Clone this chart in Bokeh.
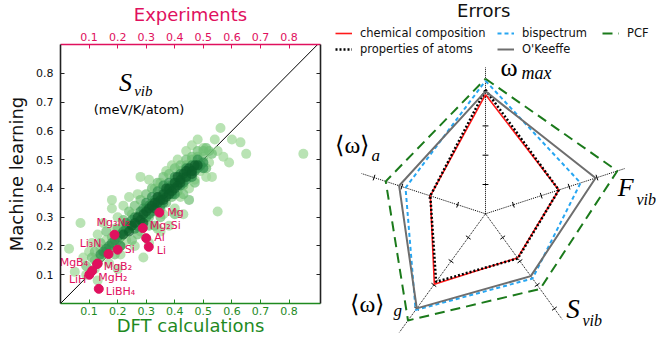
import math
from bokeh.plotting import figure
from bokeh.layouts import row, column
from bokeh.models import (LinearAxis, FixedTicker, Range1d, Slope, Label, Legend,
                          LegendItem, ColumnDataSource)
from bokeh.core.properties import value
from bokeh.embed import file_html
from bokeh.resources import INLINE

# ---------------------------------------------------------------- data
# ML vs DFT S_vib (meV/K/atom), grouped by point shade
light_x = [0.03, 0.07, 0.05, 0.08, 0.09, 0.10, 0.11, 0.12, 0.13, 0.14, 0.15, 0.16, 0.17, 0.18, 0.18,
           0.19, 0.20, 0.21, 0.22, 0.23, 0.24, 0.25, 0.26, 0.27, 0.28, 0.28, 0.30, 0.31, 0.31, 0.33,
           0.34, 0.35, 0.36, 0.37, 0.38, 0.39, 0.40, 0.41, 0.42, 0.43, 0.44, 0.45, 0.46, 0.47, 0.48,
           0.49, 0.50, 0.51, 0.52, 0.53, 0.54, 0.55, 0.55, 0.56, 0.57, 0.59, 0.60, 0.63, 0.65, 0.85,
           0.35, 0.29, 0.13, 0.20]
light_y = [0.19, 0.28, 0.11, 0.16, 0.10, 0.18, 0.21, 0.12, 0.24, 0.19, 0.28, 0.22, 0.14, 0.33, 0.36,
           0.26, 0.30, 0.17, 0.34, 0.22, 0.37, 0.31, 0.20, 0.38, 0.44, 0.25, 0.34, 0.43, 0.21, 0.40,
           0.26, 0.42, 0.31, 0.46, 0.27, 0.48, 0.33, 0.50, 0.37, 0.31, 0.53, 0.40, 0.55, 0.43, 0.57,
           0.46, 0.54, 0.44, 0.49, 0.44, 0.57, 0.32, 0.53, 0.61, 0.51, 0.49, 0.57, 0.56, 0.52, 0.52,
           0.25, 0.16, 0.08, 0.12]
mid_x = [0.09, 0.11, 0.12, 0.13, 0.14, 0.15, 0.16, 0.17, 0.18, 0.19, 0.20, 0.21, 0.22, 0.23, 0.24,
         0.25, 0.26, 0.27, 0.28, 0.29, 0.30, 0.31, 0.32, 0.33, 0.34, 0.35, 0.36, 0.37, 0.38, 0.39,
         0.40, 0.41, 0.42, 0.43, 0.44, 0.45, 0.46, 0.47, 0.48, 0.49, 0.50, 0.51, 0.52, 0.53, 0.45,
         0.40, 0.33, 0.27, 0.21,
         0.12, 0.14, 0.16, 0.18, 0.20, 0.22, 0.24, 0.26, 0.28, 0.30, 0.32, 0.34, 0.36, 0.38, 0.40,
         0.42, 0.44, 0.46, 0.48, 0.50, 0.35, 0.31, 0.25, 0.19, 0.43, 0.47, 0.51]
mid_y = [0.13, 0.16, 0.18, 0.14, 0.21, 0.17, 0.25, 0.19, 0.23, 0.20, 0.26, 0.23, 0.29, 0.25, 0.32,
         0.27, 0.34, 0.29, 0.36, 0.29, 0.38, 0.30, 0.40, 0.32, 0.42, 0.33, 0.44, 0.35, 0.45, 0.37,
         0.47, 0.39, 0.48, 0.41, 0.50, 0.44, 0.51, 0.47, 0.53, 0.49, 0.51, 0.54, 0.53, 0.52, 0.36,
         0.31, 0.27, 0.24, 0.20,
         0.15, 0.16, 0.18, 0.20, 0.22, 0.27, 0.26, 0.28, 0.31, 0.33, 0.35, 0.37, 0.39, 0.41, 0.43,
         0.46, 0.48, 0.50, 0.51, 0.53, 0.30, 0.27, 0.22, 0.17, 0.38, 0.42, 0.47]
dark_x = [0.14, 0.16, 0.18, 0.20, 0.22, 0.24, 0.25, 0.26, 0.28, 0.29, 0.30, 0.31, 0.32, 0.33, 0.34,
          0.35, 0.36, 0.37, 0.38, 0.39, 0.40, 0.41, 0.42, 0.43, 0.44, 0.45, 0.46, 0.47, 0.48, 0.49,
          0.50, 0.23, 0.27, 0.31, 0.35, 0.39, 0.43,
          0.19, 0.21, 0.23, 0.26, 0.30, 0.32, 0.34, 0.36, 0.38, 0.40, 0.42, 0.44, 0.46, 0.48, 0.50,
          0.21, 0.17, 0.15]
dark_y = [0.17, 0.19, 0.21, 0.23, 0.25, 0.27, 0.29, 0.30, 0.32, 0.33, 0.35, 0.34, 0.37, 0.36, 0.39,
          0.37, 0.41, 0.39, 0.42, 0.41, 0.44, 0.42, 0.45, 0.44, 0.47, 0.46, 0.48, 0.46, 0.50, 0.48,
          0.49, 0.28, 0.27, 0.31, 0.34, 0.38, 0.42,
          0.22, 0.24, 0.26, 0.26, 0.30, 0.32, 0.34, 0.35, 0.39, 0.38, 0.41, 0.43, 0.44, 0.47, 0.47,
          0.20, 0.20, 0.18]
core_x = [0.26, 0.29, 0.31, 0.33, 0.35, 0.36, 0.37, 0.38, 0.39, 0.40, 0.41, 0.42, 0.43, 0.44, 0.45,
          0.46, 0.47, 0.34, 0.30, 0.48,
          0.22, 0.24, 0.25, 0.27, 0.28, 0.32, 0.34, 0.36, 0.38, 0.40, 0.42, 0.44, 0.46, 0.41, 0.37,
          0.33, 0.29]
core_y = [0.28, 0.31, 0.33, 0.35, 0.36, 0.38, 0.37, 0.40, 0.39, 0.42, 0.41, 0.43, 0.45, 0.44, 0.47,
          0.46, 0.48, 0.37, 0.32, 0.48,
          0.24, 0.25, 0.27, 0.30, 0.29, 0.34, 0.35, 0.36, 0.38, 0.40, 0.42, 0.46, 0.45, 0.44, 0.40,
          0.33, 0.28]

# experimentally measured compounds
exp_names = ["Mg", "Mg\u2082Si", "Al", "Li", "Mg\u2083N\u2082", "Si", "Li\u2083N",
             "MgB\u2084", "MgB\u2082", "LiH", "MgH\u2082", "LiBH\u2084"]
exp_x = [0.346, 0.288, 0.300, 0.309, 0.189, 0.200, 0.168, 0.128, 0.130, 0.101, 0.111, 0.134]
exp_y = [0.316, 0.262, 0.227, 0.197, 0.239, 0.187, 0.172, 0.137, 0.139, 0.100, 0.114, 0.051]

tick_vals = [0.1, 0.2, 0.3, 0.4, 0.5, 0.6, 0.7, 0.8]

# radar chart of errors
radar_axes = ["omega_max", "F_vib", "S_vib", "omega_g", "omega_a"]
radar_angles_deg = [90, 18, -54, -126, 162]
radar_axis_len = [5.0, 5.0, 4.45, 5.0, 4.45]
radar_ticks = [1, 2, 3, 4]
series_names = ["chemical composition", "properties of atoms", "bispectrum", "O'Keeffe", "PCF"]
err_chem = [4.07, 2.63, 1.86, 2.97, 1.98]
err_props = [4.23, 2.63, 1.88, 2.87, 1.98]
err_bisp = [4.54, 3.41, 2.73, 4.06, 2.87]
err_okeeffe = [4.18, 3.95, 2.63, 3.99, 3.10]
err_pcf = [4.61, 4.73, 3.17, 4.50, 3.58]

# ---------------------------------------------------------------- styles
MAGENTA = "#e0105e"
GREEN_TXT = "#1f8a1f"
FONT = "DejaVu Sans"
SERIF = "Liberation Serif"

# label offsets in screen px (dx, dy down) and alignment for the compound names
lab_dx = [8, 7, 8, 8, -18, 7, -7, -9, 6, -3, 6, 7]
lab_dy = [0, -3, -1, 4, -12, 0, -11, -2, 3, 5, 7, 3]
lab_align = ["left", "left", "left", "left", "left", "left", "right", "right", "left", "right",
             "left", "left"]

# ---------------------------------------------------------------- left panel
p = figure(width=332, height=340, x_range=Range1d(0, 0.91), y_range=Range1d(0, 0.9),
           output_backend="svg", toolbar_location=None, x_axis_type=None, y_axis_type=None,
           title=None,
           min_border_left=60, min_border_right=12, min_border_top=43, min_border_bottom=37)
p.outline_line_color = None
p.background_fill_color = "white"
p.border_fill_color = "white"


def style_axis(ax, line_color, text_color, label=None):
    ax.ticker = FixedTicker(ticks=tick_vals)
    ax.axis_line_color = line_color
    ax.axis_line_width = 1.6
    ax.major_tick_line_color = line_color
    ax.major_tick_line_width = 1
    ax.major_tick_in = 4
    ax.major_tick_out = 0
    ax.minor_tick_line_color = None
    ax.major_label_text_font = FONT
    ax.major_label_text_font_size = "11px"
    ax.major_label_text_color = text_color
    ax.axis_label_text_font = FONT
    ax.axis_label_text_font_size = "18px"
    ax.axis_label_text_font_style = "normal"
    ax.axis_label_text_color = text_color
    if label is not None:
        ax.axis_label = label


xb = LinearAxis()
style_axis(xb, GREEN_TXT, GREEN_TXT, "DFT calculations")
xb.major_label_standoff = 3
xb.axis_label_standoff = -3
p.add_layout(xb, "below")

xt = LinearAxis()
style_axis(xt, MAGENTA, MAGENTA, "Experiments")
xt.major_label_standoff = 4
xt.axis_label_standoff = 5
p.add_layout(xt, "above")

yl = LinearAxis()
style_axis(yl, "#222222", "#111111", "Machine learning")
yl.major_label_standoff = 7
yl.axis_label_standoff = 6
p.add_layout(yl, "left")

yr = LinearAxis()
style_axis(yr, "#222222", "#111111")
yr.major_label_text_font_size = "1px"
yr.major_label_text_color = None
yr.major_label_standoff = 0
p.add_layout(yr, "right")

p.add_layout(Slope(gradient=1, y_intercept=0, line_color="black", line_width=1, level="underlay"))

p.scatter(light_x, light_y, size=10, fill_color="#a1d99b", fill_alpha=0.75, line_color=None)
p.scatter(mid_x, mid_y, size=10, fill_color="#6fbf73", fill_alpha=0.7, line_color=None)
p.scatter(dark_x, dark_y, size=10, fill_color="#2e8f4b", fill_alpha=0.7, line_color=None)
p.scatter(core_x, core_y, size=10, fill_color="#0b5e2a", fill_alpha=0.7, line_color=None)

p.scatter(exp_x, exp_y, size=9, fill_color=MAGENTA, line_color=MAGENTA)
src = ColumnDataSource(dict(x=exp_x, y=exp_y, t=exp_names, dx=lab_dx, dy=lab_dy, al=lab_align))
p.text(x="x", y="y", text="t", x_offset="dx", y_offset="dy", text_align="al", source=src,
       text_baseline="middle", text_color=MAGENTA, text_font=value(FONT), text_font_size="11px")

p.add_layout(Label(x=0.205, y=0.716, text="S", text_font=SERIF, text_font_style="italic",
                   text_font_size="26px", text_color="black"))
p.add_layout(Label(x=0.258, y=0.709, text="vib", text_font=SERIF, text_font_style="italic",
                   text_font_size="15px", text_color="black"))
p.add_layout(Label(x=0.275, y=0.647, text="(meV/K/atom)", text_align="center", text_font=FONT,
                   text_font_size="13px", text_color="black"))

# ---------------------------------------------------------------- right panel
UNIT = 29.3
CX, CY = 153, 213.3
QW, QH = 324, 340
q = figure(width=QW, height=QH, x_range=Range1d(-CX / UNIT, (QW - CX) / UNIT),
           y_range=Range1d(-(QH - CY) / UNIT, CY / UNIT), output_backend="svg",
           toolbar_location=None, x_axis_type=None, y_axis_type=None, min_border=0, title=None)
q.outline_line_color = None
q.background_fill_color = "white"
q.border_fill_color = "white"

ang = [math.radians(a) for a in radar_angles_deg]
cosv = [math.cos(a) for a in ang]
sinv = [math.sin(a) for a in ang]

# axes
q.segment(x0=[0] * 5, y0=[0] * 5, x1=[L * c for L, c in zip(radar_axis_len, cosv)],
          y1=[L * s for L, s in zip(radar_axis_len, sinv)], line_color="black", line_width=1,
          line_dash="1 1")
half = 0.1
tx0, ty0, tx1, ty1 = [], [], [], []
for c, s in zip(cosv, sinv):
    for r in radar_ticks:
        px, py = r * c, r * s
        tx0.append(px - half * s)
        ty0.append(py + half * c)
        tx1.append(px + half * s)
        ty1.append(py - half * c)
q.segment(x0=tx0, y0=ty0, x1=tx1, y1=ty1, line_color="black", line_width=1)


def poly(vals):
    xs = [v * c for v, c in zip(vals, cosv)]
    ys = [v * s for v, s in zip(vals, sinv)]
    return xs + xs[:1], ys + ys[:1]


series = [
    (err_chem, dict(line_color="#ff1a1a", line_width=1.6)),
    (err_props, dict(line_color="black", line_width=2.5, line_dash="2 2")),
    (err_bisp, dict(line_color="#27a6f2", line_width=2, line_dash="4 3")),
    (err_okeeffe, dict(line_color="#6e6e6e", line_width=2)),
    (err_pcf, dict(line_color="#1b7a1b", line_width=2, line_dash="10 6")),
]
rends = []
for vals, st in series:
    xs, ys = poly(vals)
    rends.append(q.line(xs, ys, **st))

# legend (three columns)
legend_cols = [([0, 1], (3, 283)), ([2, 3], (165, 283)), ([4], (270, 299))]
for idxs, loc in legend_cols:
    lg = Legend(items=[LegendItem(label=series_names[i], renderers=[rends[i]]) for i in idxs],
                location=loc, orientation="vertical", label_text_font=FONT,
                label_text_font_size="11.5px", label_text_color="#111111", glyph_width=17,
                glyph_height=16, label_height=16, label_standoff=8, spacing=0, padding=0,
                margin=0, border_line_color=None, background_fill_alpha=0)
    q.add_layout(lg)

q.add_layout(Label(x=-0.06, y=6.57, text="Errors", text_align="center", text_font=FONT,
                   text_font_size="18px", text_color="#111111"))

# axis labels of radar chart
pieces = [
    ("\u03c9", 0.51, 4.51, "normal", "26px"),
    ("max", 1.23, 4.45, "italic", "18px"),
    ("\u27e8\u03c9\u27e9", -5.12, 1.89, "normal", "24px"),
    ("a", -3.89, 1.65, "italic", "17px"),
    ("F", 4.51, 0.386, "italic", "26px"),
    ("vib", 5.15, 0.215, "italic", "16px"),
    ("S", 2.76, -3.75, "italic", "27px"),
    ("vib", 3.31, -3.92, "italic", "16px"),
    ("\u27e8\u03c9\u27e9", -4.61, -3.53, "normal", "24px"),
    ("g", -3.14, -3.64, "italic", "17px"),
]
for t, x, y, fs, sz in pieces:
    q.add_layout(Label(x=x, y=y, text=t, text_font=SERIF, text_font_style=fs,
                       text_font_size=sz, text_color="black"))

layout = row(column(p), column(q))
open("out.html", "w").write(file_html(layout, INLINE))
